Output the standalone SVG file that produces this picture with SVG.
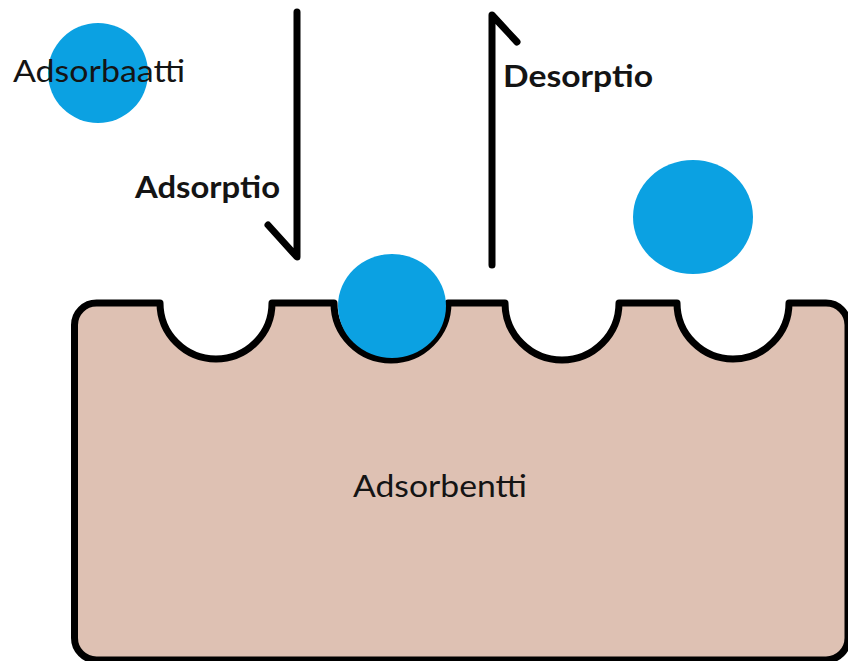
<svg xmlns="http://www.w3.org/2000/svg" width="848" height="661" viewBox="0 0 848 661">
<style>
.particle{fill:#0ba1e2}
.outline{stroke:#000;stroke-width:7;stroke-linejoin:round;stroke-linecap:round}
.conn{fill:none;stroke:#000;stroke-width:7;stroke-linecap:round;stroke-linejoin:round}
.lbl{font-family:Lato,"Liberation Sans",sans-serif;font-size:31px;fill:#141414}
.bold{font-weight:bold}
</style>
<rect x="0" y="0" width="848" height="661" fill="#fff"/>
<g id="adsorbentti">
<path class="outline" fill="#dec1b3" d="M74.5,325 A22,22 0 0 1 96.5,303 L160,303 A56,56 0 0 0 272,303 L334,303 A57,57 0 0 0 448,303 L505,303 A57,57 0 0 0 619,303 L677,303 A56,56 0 0 0 789,303 L826,303 A22,22 0 0 1 848,325 L848,638 A22,22 0 0 1 826,660 L96.5,660 A22,22 0 0 1 74.5,638 Z"/>
<text class="lbl" x="353" y="497" textLength="174" lengthAdjust="spacingAndGlyphs">Adsorbentti</text>
</g>
<g id="adsorbed-particle">
<ellipse class="particle" cx="392" cy="306" rx="54" ry="52"/>
</g>
<g id="desorbed-particle">
<ellipse class="particle" cx="693" cy="217" rx="60" ry="57"/>
</g>
<g id="adsorbaatti">
<circle class="particle" cx="98" cy="73" r="50"/>
<text class="lbl" x="13" y="82" textLength="172" lengthAdjust="spacingAndGlyphs">Adsorbaatti</text>
</g>
<g id="connectors">
<g id="adsorptio">
<path class="conn" d="M297,12 L297,257 L268,225"/>
<text class="lbl bold" x="135" y="198" textLength="145" lengthAdjust="spacingAndGlyphs">Adsorptio</text>
</g>
<g id="desorptio">
<path class="conn" d="M492,265 L492,15 L517,42"/>
<text class="lbl bold" x="503" y="87" textLength="150" lengthAdjust="spacingAndGlyphs">Desorptio</text>
</g>
</g>
</svg>
